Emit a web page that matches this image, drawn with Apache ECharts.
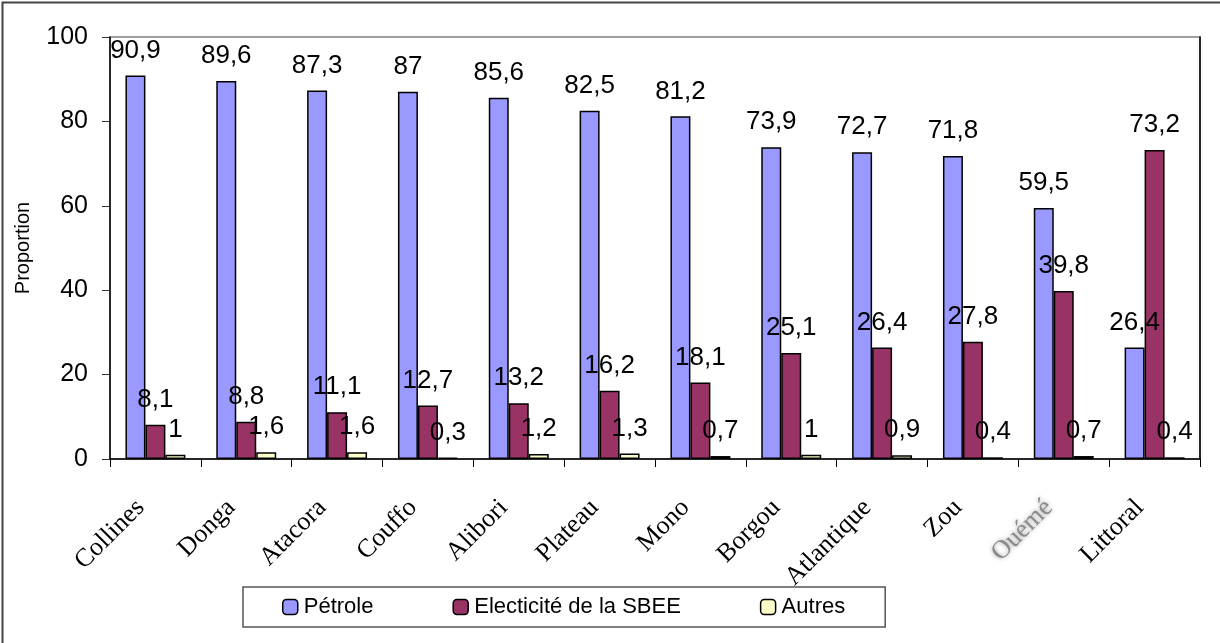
<!DOCTYPE html>
<html>
<head>
<meta charset="utf-8">
<script src="https://cdn.jsdelivr.net/npm/echarts@6/dist/echarts.min.js"></script>
<style>
html,body{margin:0;padding:0;background:#fff;}
#c{width:1220px;height:643px;}
</style>
</head>
<body>
<div id="c"></div>
<script>
const categories = ['Collines','Donga','Atacora','Couffo','Alibori','Plateau','Mono','Borgou','Atlantique','Zou','Ouémé','Littoral'];
const petrole = [90.9, 89.6, 87.3, 87, 85.6, 82.5, 81.2, 73.9, 72.7, 71.8, 59.5, 26.4];
const electricite = [8.1, 8.8, 11.1, 12.7, 13.2, 16.2, 18.1, 25.1, 26.4, 27.8, 39.8, 73.2];
const autres = [1, 1.6, 1.6, 0.3, 1.2, 1.3, 0.7, 1, 0.9, 0.4, 0.7, 0.4];
const seriesNames = ['Pétrole', 'Electicité de la SBEE', 'Autres'];
const yTicks = [0, 20, 40, 60, 80, 100];

const chart = echarts.init(document.getElementById('c'), null, {renderer: 'canvas'});
const sans = 'Liberation Sans, Arial, sans-serif';
const serif = 'Liberation Serif, Times New Roman, serif';

function mkSeries(name, data, color) {
  return {
    name: name,
    type: 'bar',
    data: data,
    barGap: '0%',
    barCategoryGap: '34%',
    itemStyle: {color: color, borderColor: '#000', borderWidth: 1.5},
    label: {
      show: true,
      position: 'top',
      distance: 12,
      color: '#000',
      fontFamily: sans,
      fontSize: 26,
      formatter: p => String(p.value).replace('.', ',')
    },
    emphasis: {disabled: true},
    animation: false
  };
}

chart.setOption({
  animation: false,
  backgroundColor: '#fff',
  grid: {left: 110, right: 20, top: 37, bottom: 184, show: true, borderColor: '#808080', borderWidth: 1.5},
  legend: {
    data: seriesNames,
    left: 243,
    top: 587,
    orient: 'horizontal',
    itemWidth: 15,
    itemHeight: 15,
    itemGap: 79,
    padding: [9, 40, 9, 39],
    borderColor: '#555',
    borderWidth: 1.5,
    textStyle: {fontFamily: sans, fontSize: 22, color: '#000', padding: [0,0,0,1]},
    itemStyle: {borderColor: '#000', borderWidth: 1.5},
    selectedMode: false
  },
  xAxis: {
    type: 'category',
    data: categories,
    axisLine: {lineStyle: {color: '#000', width: 1.5}},
    axisTick: {show: true, length: 8, lineStyle: {color: '#000'}, alignWithLabel: false},
    axisLabel: {
      rotate: 45,
      interval: 0,
      margin: 30,
      padding: [0, 21, 0, 0],
      fontFamily: serif,
      fontSize: 26,
      color: '#000',
      formatter: v => v === 'Ouémé' ? '{b|' + v + '}' : v,
      rich: {
        b: {fontFamily: serif, fontSize: 26, color: '#8a8a8a', textShadowColor: '#999', textShadowBlur: 4}
      }
    }
  },
  yAxis: [{
    type: 'value',
    min: yTicks[0],
    max: yTicks[yTicks.length - 1],
    interval: 20,
    name: 'Proportion',
    nameLocation: 'middle',
    nameGap: 77,
    nameRotate: 90,
    nameTextStyle: {fontFamily: sans, fontSize: 20, color: '#000'},
    axisLine: {show: true, lineStyle: {color: '#000', width: 1.5}},
    axisTick: {show: true, length: 8, lineStyle: {color: '#333'}},
    axisLabel: {fontFamily: sans, fontSize: 25, color: '#000', margin: 22},
    splitLine: {show: false}
  }, {
    type: 'value',
    position: 'right',
    min: 0, max: 100, interval: 20,
    axisLine: {show: true, lineStyle: {color: '#000', width: 1.5}},
    axisTick: {show: false},
    axisLabel: {show: false},
    splitLine: {show: false}
  }],
  series: [
    mkSeries(seriesNames[0], petrole, '#9999FF'),
    mkSeries(seriesNames[1], electricite, '#993366'),
    mkSeries(seriesNames[2], autres, '#FFFFCC')
  ],
  graphic: [{
    type: 'rect',
    shape: {x: 2.5, y: 2.5, width: 1240, height: 660},
    style: {fill: 'none', stroke: '#444', lineWidth: 2},
    silent: true,
    z: 100
  }]
});
</script>
</body>
</html>
